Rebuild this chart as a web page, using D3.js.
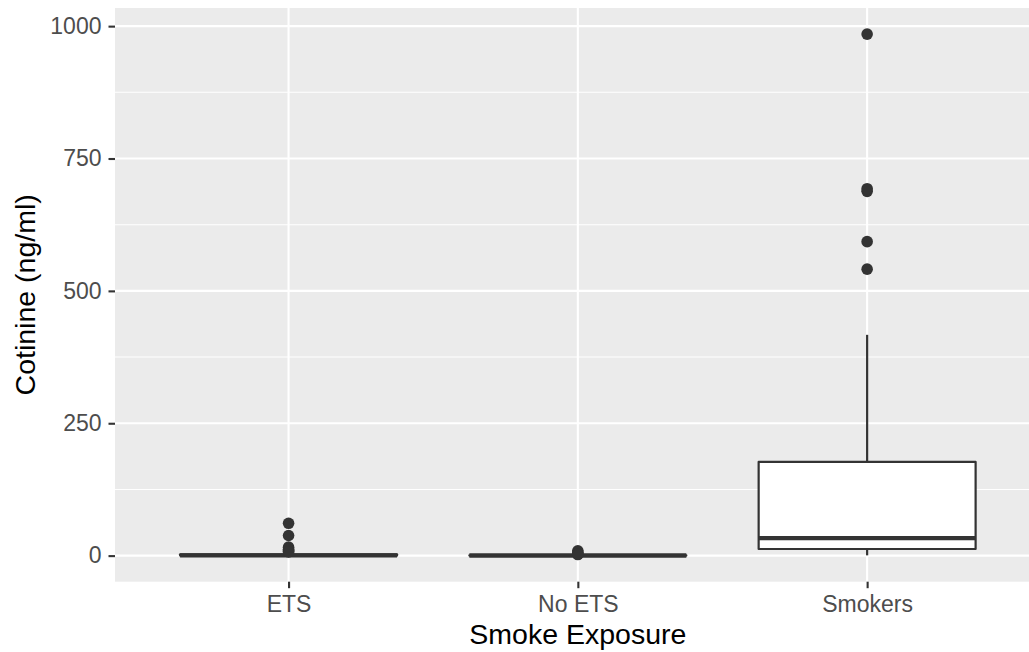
<!DOCTYPE html>
<html>
<head>
<meta charset="utf-8">
<script src="https://cdn.jsdelivr.net/npm/d3@7"></script>
<style>
  html, body { margin: 0; padding: 0; background: #ffffff; }
  svg { display: block; }
  text { font-family: "Liberation Sans", Arial, Helvetica, sans-serif; }
</style>
</head>
<body>
<svg id="chart" width="1029" height="652"></svg>
<script>
// Box-plot summaries of cotinine by smoke-exposure group
const categories   = ["ETS", "No ETS", "Smokers"];
const whiskerLow   = [0, 0, 0.5];
const q1           = [0.1, 0.03, 12.5];
const medians      = [0.5, 0.1, 33];
const q3           = [2.5, 0.4, 177];
const whiskerHigh  = [6, 1, 417];
const outliers     = [
  [61, 38, 16, 12, 10, 8, 7],
  [9, 6, 3, 2],
  [541, 593, 688, 693, 985]
];
const yTicks       = [0, 250, 500, 750, 1000];
const yMinorTicks  = [125, 375, 625, 875];

const svg = d3.select("#chart");
const panel = { left: 115, top: 8, right: 1040.7, bottom: 581.7 };

// Continuous y with 5% expansion on the data range
const allVals = [].concat(whiskerLow, whiskerHigh, ...outliers);
const yMin = d3.min(allVals), yMax = d3.max(allVals);
const pad = (yMax - yMin) * 0.05;
const y = d3.scaleLinear().domain([yMin - pad, yMax + pad]).range([panel.bottom, panel.top]);

// Discrete x with 0.6 unit expansion on both sides
const x = d3.scalePoint().domain(categories).range([panel.left, panel.right]).padding(0.6);
const unit = x.step();
const boxW = unit * 0.75;

// Panel background
svg.append("rect")
  .attr("x", panel.left).attr("y", panel.top)
  .attr("width", panel.right - panel.left).attr("height", panel.bottom - panel.top)
  .attr("fill", "#EBEBEB");

const grid = svg.append("g");
grid.selectAll("line.minor").data(yMinorTicks).join("line")
  .attr("x1", panel.left).attr("x2", panel.right)
  .attr("y1", d => y(d)).attr("y2", d => y(d))
  .attr("stroke", "#ffffff").attr("stroke-width", 1.05);
grid.selectAll("line.majy").data(yTicks).join("line")
  .attr("x1", panel.left).attr("x2", panel.right)
  .attr("y1", d => y(d)).attr("y2", d => y(d))
  .attr("stroke", "#ffffff").attr("stroke-width", 2.1);
grid.selectAll("line.majx").data(categories).join("line")
  .attr("x1", d => x(d)).attr("x2", d => x(d))
  .attr("y1", panel.top).attr("y2", panel.bottom)
  .attr("stroke", "#ffffff").attr("stroke-width", 2.1);

// Boxes, whiskers, medians and outlying points
const ink = "#333333";
const lw = 2.2;
const boxes = svg.append("g");
categories.forEach((c, i) => {
  const cx = x(c);
  const g = boxes.append("g");
  g.append("line").attr("x1", cx).attr("x2", cx)
    .attr("y1", y(q3[i])).attr("y2", y(whiskerHigh[i]))
    .attr("stroke", ink).attr("stroke-width", lw);
  g.append("line").attr("x1", cx).attr("x2", cx)
    .attr("y1", y(q1[i])).attr("y2", y(whiskerLow[i]))
    .attr("stroke", ink).attr("stroke-width", lw);
  g.append("rect")
    .attr("x", cx - boxW / 2).attr("y", y(q3[i]))
    .attr("width", boxW).attr("height", y(q1[i]) - y(q3[i]))
    .attr("fill", "#ffffff").attr("stroke", ink).attr("stroke-width", lw)
    .attr("stroke-linejoin", "round");
  g.append("line")
    .attr("x1", cx - boxW / 2).attr("x2", cx + boxW / 2)
    .attr("y1", y(medians[i])).attr("y2", y(medians[i]))
    .attr("stroke", ink).attr("stroke-width", lw * 2).attr("stroke-linecap", "butt");
  g.selectAll("circle").data(outliers[i]).join("circle")
    .attr("cx", cx).attr("cy", d => y(d)).attr("r", 5.8)
    .attr("fill", ink);
});

// Axes
const fontStack = '"Liberation Sans", Arial, Helvetica, sans-serif';
const yAxis = d3.axisLeft(y).tickValues(yTicks).tickFormat(d3.format("d"))
  .tickSize(6.5).tickPadding(7);
const gy = svg.append("g").attr("transform", `translate(${panel.left},0)`).call(yAxis);
gy.select(".domain").remove();
gy.selectAll(".tick line").attr("stroke", ink).attr("stroke-width", 2.1);
gy.selectAll(".tick text").attr("fill", "#4D4D4D").attr("font-size", 23)
  .style("font-family", fontStack);

const xAxis = d3.axisBottom(x).tickSize(6.5).tickPadding(7.5);
const gx = svg.append("g").attr("transform", `translate(0,${panel.bottom})`).call(xAxis);
gx.select(".domain").remove();
gx.selectAll(".tick line").attr("stroke", ink).attr("stroke-width", 2.1);
gx.selectAll(".tick text").attr("fill", "#4D4D4D").attr("font-size", 23)
  .style("font-family", fontStack);

// Axis titles
svg.append("text")
  .attr("x", (panel.left + panel.right) / 2).attr("y", 644)
  .attr("text-anchor", "middle").attr("font-size", 28.5).attr("fill", "#000")
  .text("Smoke Exposure");
svg.append("text")
  .attr("transform", `translate(35,${(panel.top + panel.bottom) / 2}) rotate(-90)`)
  .attr("text-anchor", "middle").attr("font-size", 28.5).attr("fill", "#000")
  .text("Cotinine (ng/ml)");
</script>
</body>
</html>
